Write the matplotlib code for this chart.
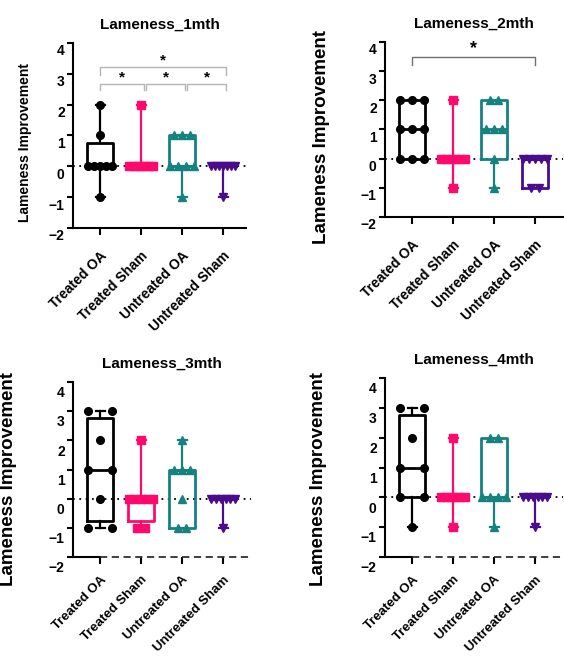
import numpy as np
import matplotlib
matplotlib.use('Agg')
import matplotlib.pyplot as plt
from matplotlib.transforms import ScaledTranslation

plt.rcParams['font.family'] = ['Liberation Sans', 'DejaVu Sans']
plt.rcParams['font.weight'] = 'bold'

groups = ['Treated OA', 'Treated Sham', 'Untreated OA', 'Untreated Sham']
colors = ['#000000', '#FF0A6C', '#158282', '#4A0C8C']
markers = ['o', 's', '^', 'v']

titles = ['Lameness_1mth', 'Lameness_2mth', 'Lameness_3mth', 'Lameness_4mth']

# lameness improvement scores per animal
month1 = [[-1, 0, 0, 0, 0, 0, 1, 2], [0, 0, 0, 0, 0, 0, 0, 2],
          [-1, 0, 0, 0, 0, 1, 1, 1], [-1, 0, 0, 0, 0, 0, 0, 0]]
month2 = [[0, 0, 0, 1, 1, 1, 2, 2, 2], [-1, 0, 0, 0, 0, 0, 0, 2],
          [-1, 0, 1, 1, 1, 2, 2], [-1, -1, 0, 0, 0, 0, 0]]
month3 = [[-1, -1, 0, 1, 1, 2, 3, 3], [-1, -1, 0, 0, 0, 0, 0, 2],
          [-1, -1, 0, 1, 1, 1, 2], [-1, 0, 0, 0, 0, 0, 0]]
month4 = [[-1, 0, 0, 1, 1, 2, 3, 3], [-1, 0, 0, 0, 0, 0, 0, 2],
          [-1, 0, 0, 0, 0, 2, 2], [-1, 0, 0, 0, 0, 0, 0]]
all_months = [month1, month2, month3, month4]

# significant comparisons (group index pairs)
sig_pairs = [[(0, 1), (1, 2), (2, 3), (0, 3)], [(0, 3)], [], []]

W, H = 564, 660
fig = plt.figure(figsize=(W / 100, H / 100), dpi=100)

# panel layout in pixels: left, top, width, height
boxes_px = [(73, 43, 173, 185), (385, 42, 178, 175), (73, 382, 178, 175), (385, 378, 178, 179)]
ylab_size = [10, 13.5, 13.5, 13.5]
ylab_px = [(32, 143), (330, 137), (17, 479), (327, 479)]
tick_drop = [5, 5, 7, 7]
xlab_size = [10, 10, 9.5, 9.5]
xlab_pad = [10, 10, 7, 7]


def stats_for(vals):
    v = np.array(vals, dtype=float)
    q1, med, q3 = np.percentile(v, [25, 50, 75], method='weibull')
    return dict(med=med, q1=q1, q3=q3, whislo=v.min(), whishi=v.max(), fliers=[])


def spread(vals, edge):
    xs, ys = [], []
    for u in np.unique(vals):
        k = int(np.sum(np.array(vals) == u))
        if k == 1:
            off = np.array([0.0])
        else:
            w = 0.3 if edge else min(0.3, 0.1 * (k - 1))
            off = np.linspace(-w, w, k)
        xs.extend(off)
        ys.extend([u] * k)
    return np.array(xs), np.array(ys)


for p in range(4):
    l, t, w, h = boxes_px[p]
    ax = fig.add_axes([l / W, (H - t - h) / H, w / W, h / H])
    data = all_months[p]
    xlim = (-0.66, -0.66 + w / 41.0)
    ax.set_xlim(xlim)
    ax.set_ylim(-2, 4)

    ax.axhline(0, color='black', ls=(0, (1, 2.5)), lw=1.3, zorder=1)

    for i, vals in enumerate(data):
        c = colors[i]
        ax.bxp([stats_for(vals)], positions=[i], widths=0.62, capwidths=0.22,
               showfliers=False,
               boxprops=dict(color=c, lw=2),
               whiskerprops=dict(color=c, lw=1.6),
               capprops=dict(color=c, lw=1.6),
               medianprops=dict(color=c, lw=2), manage_ticks=False)
        xo, yv = spread(vals, i == 0)
        ax.plot(i + xo, yv, ls='none', marker=markers[i], color=c,
                ms=5.5, zorder=4, clip_on=False)

    # significance brackets
    pairs = sig_pairs[p]
    for a, b in pairs:
        if p == 0:
            top = (a, b) == (0, 3)
            y = 3.22 if top else 2.67
            drop = 0.26 if top else 0.2
            x1 = a + (0.12 if a > 0 else 0)
            x2 = b + 0.08
            bc, ss = '#b5b5b5', 11
        else:
            y, drop = 3.49, 0.28
            x1, x2 = a, b
            bc, ss = '#707070', 13
        ax.plot([x1, x1, x2, x2], [y - drop, y, y, y - drop], color=bc, lw=1, zorder=2)
        ax.text((x1 + x2) / 2, y - 0.02, '*', ha='center', va='bottom',
                fontsize=ss, fontweight='bold')

    for s in ['top', 'right']:
        ax.spines[s].set_visible(False)
    ax.spines['left'].set_linewidth(1.5)
    ax.spines['bottom'].set_linewidth(1.5)
    if p >= 2:
        ax.spines['bottom'].set_bounds(xlim[0], 0)
        ax.plot([0, xlim[1]], [-2, -2], color='#303030', ls=(0, (4, 2.5)),
                lw=1.3, clip_on=False, zorder=3)

    ax.set_yticks(range(-2, 5))
    ax.set_xticks(range(4))
    ax.set_xticklabels(groups, rotation=45, ha='right', va='top',
                       rotation_mode='anchor', fontsize=xlab_size[p], fontweight='bold')
    ax.tick_params(axis='y', length=4, width=1.5, labelsize=10, pad=2)
    ax.tick_params(axis='x', length=5, width=1.5, pad=xlab_pad[p])
    for lab in ax.get_yticklabels():
        lab.set_fontweight('bold')
        lab.set_transform(lab.get_transform() +
                          ScaledTranslation(0, -tick_drop[p] / 72, fig.dpi_scale_trans))

    ax.set_title(titles[p], fontsize=11, fontweight='bold', pad=10)
    ax.set_ylabel('Lameness Improvement', fontsize=ylab_size[p], fontweight='bold')
    lx, ly = ylab_px[p]
    ax.yaxis.set_label_coords(lx / W, 1 - ly / H, transform=fig.transFigure)

fig.savefig('out.png', dpi=100)
